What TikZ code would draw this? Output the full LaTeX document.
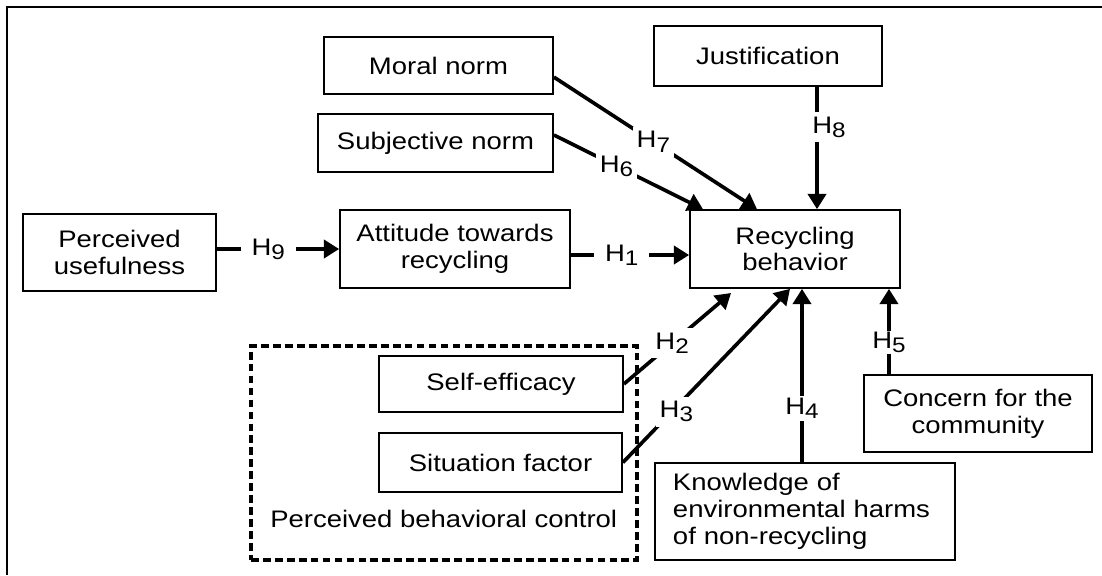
\documentclass[tikz,border=0pt]{standalone}
\usepackage{fontspec}
\setmainfont{Liberation Sans}[FakeStretch=1.15]
\usetikzlibrary{arrows.meta}
\newcommand{\hyp}[1]{H\raisebox{-3pt}{\fontsize{15}{15}\selectfont #1}}

\begin{document}
\begin{tikzpicture}[x=0.025cm, y=-0.025cm,
  box/.style={rectangle, draw, line width=1.2pt, inner sep=0pt, align=center, font=\fontsize{17}{19}\selectfont},
  arr/.style={-{Triangle[length=0.38cm, width=0.45cm]}, line width=2.6pt},
  hlab/.style={fill=white, inner xsep=0.27cm, inner ysep=0.12cm, font=\fontsize{17}{19}\selectfont}]

\useasboundingbox (0,0) rectangle (1102,575);
\draw[line width=1.2pt] (1102,7) -- (7,7) -- (7,575);

\node (moral) [box, minimum width=5.725cm, minimum height=1.425cm] at (438.5,65.5) {Moral norm};
\node (just) [box, minimum width=5.7cm, minimum height=1.5cm] at (768,56) {Justification};
\node (subj) [box, minimum width=5.875cm, minimum height=1.45cm] at (435.5,143) {Subjective norm};
\node (useful) [box, minimum width=4.825cm, minimum height=1.925cm] at (119.5,252.5) {Perceived\\usefulness};
\node (attitude) [box, minimum width=5.75cm, minimum height=1.95cm] at (455,249) {Attitude towards\\recycling};
\node (recyc) [box, minimum width=5.25cm, minimum height=1.95cm] at (795,249) {Recycling\\behavior};

% perceived behavioral control group
\node (pbc) [draw, dash pattern=on 5.5pt off 3pt, line width=2.6pt, minimum width=9.65cm, minimum height=5.35cm] at (444,453) {};
\node (self) [box, minimum width=6.1cm, minimum height=1.4cm] at (501,384) {Self-efficacy};
\node (situ) [box, minimum width=6.075cm, minimum height=1.475cm] at (500.5,462.5) {Situation factor};
\node (pbctext) [anchor=base west, inner sep=0pt, font=\fontsize{17}{19}\selectfont] at (270,527) {Perceived behavioral control};

\node (concern) [box, minimum width=5.7cm, minimum height=1.925cm] at (978,413.5) {Concern for the\\community};
\node (knowl) [box, align=left, text width=6.6cm, inner xsep=0.45cm, minimum height=2.425cm] at (805,511.5) {Knowledge of\\environmental harms\\of non-recycling};

\coordinate (h2tip) at (731,293);

\draw[arr] (useful.east |- attitude.west) -- node[hlab, pos=0.42] {\hyp{9}} (attitude.west);
\draw[arr] ([yshift=-0.15cm]attitude.east) -- node[hlab, pos=0.43] {\hyp{1}} ([yshift=-0.15cm]recyc.west);
\draw[arr] ([yshift=-0.29cm]moral.east) -- node[hlab, pos=0.49, inner xsep=0.1cm] {\hyp{7}} ([xshift=-0.95cm]recyc.north);
\draw[arr] ([yshift=0.2cm]subj.east) -- node[hlab, pos=0.42, inner xsep=0.1cm] {\hyp{6}} ([xshift=-2.3cm]recyc.north);
\draw[arr] ([xshift=1.225cm]just.south) -- node[hlab, pos=0.33, xshift=0.3cm, inner xsep=0.1cm] {\hyp{8}} ([xshift=1.225cm]just.south |- recyc.north);
\draw[arr] (self.east) -- node[hlab, pos=0.45, inner xsep=0.1cm] {\hyp{2}} (h2tip);
\draw[arr] (situ.east) -- node[hlab, pos=0.32, yshift=-0.12cm, inner xsep=0.1cm] {\hyp{3}} ([xshift=-0.125cm]recyc.south);
\draw[arr] ([xshift=-0.075cm]knowl.north) -- node[hlab, pos=0.31, inner xsep=0.1cm, inner ysep=0.05cm] {\hyp{4}} ([xshift=-0.075cm]knowl.north |- recyc.south);
\draw[arr] ([xshift=-2.225cm]concern.north) -- node[hlab, pos=0.37, inner xsep=0.1cm, inner ysep=0.02cm] {\hyp{5}} ([xshift=-2.225cm]concern.north |- recyc.south);
\end{tikzpicture}
\end{document}
